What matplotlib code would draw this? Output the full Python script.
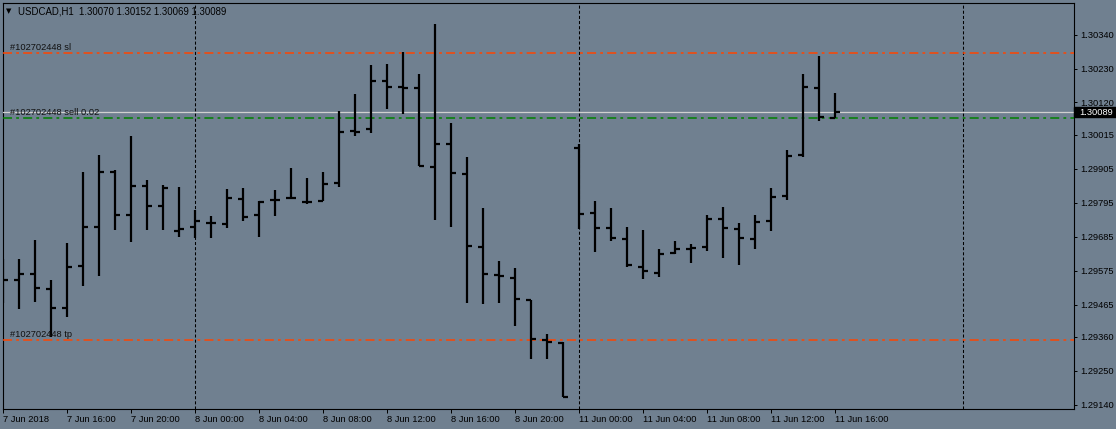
import matplotlib
matplotlib.use('Agg')
import matplotlib.pyplot as plt
import numpy as np
from matplotlib.patches import Rectangle

plt.rcParams['font.family'] = ['Liberation Sans', 'DejaVu Sans']
plt.rcParams['lines.scale_dashes'] = False

# ---------------- data (USDCAD H1, 7 Jun 2018 12:00 .. 11 Jun 2018 16:00) ----------------
opens = [1.29548, 1.29545, 1.29563, 1.29516, 1.29455, 1.29591, 1.29717, 1.29895, 1.29755, 1.29849,
         1.29784, 1.29704, 1.29717, 1.29730, 1.29726, 1.29807, 1.29754, 1.29803, 1.29810, 1.29797,
         1.29801, 1.29860, 1.30029, 1.30035, 1.30191, 1.30171, 1.30168, 1.29912, 1.29985, 1.29887,
         1.29652, 1.29561, 1.29552, 1.29480, 1.29350, 1.29341, 1.29974, 1.29763, 1.29714, 1.29677,
         1.29588, 1.29568, 1.29632, 1.29644, 1.29652, 1.29742, 1.29711, 1.29677, 1.29737, 1.29818,
         1.29950, 1.30168, 1.30070]
highs = [1.29613, 1.29613, 1.29674, 1.29544, 1.29664, 1.29895, 1.29950, 1.29901, 1.30011, 1.29869,
         1.29853, 1.29846, 1.29771, 1.29752, 1.29840, 1.29842, 1.29802, 1.29836, 1.29908, 1.29874,
         1.29896, 1.30093, 1.30148, 1.30242, 1.30245, 1.30284, 1.30213, 1.30375, 1.30053, 1.29942,
         1.29777, 1.29605, 1.29582, 1.29481, 1.29368, 1.29342, 1.29985, 1.29802, 1.29777, 1.29715,
         1.29707, 1.29645, 1.29671, 1.29661, 1.29755, 1.29781, 1.29728, 1.29755, 1.29843, 1.29966,
         1.30213, 1.30271, 1.30152]
lows = [1.29469, 1.29449, 1.29474, 1.29361, 1.29425, 1.29526, 1.29557, 1.29707, 1.29668, 1.29707,
        1.29707, 1.29684, 1.29680, 1.29680, 1.29712, 1.29737, 1.29685, 1.29753, 1.29806, 1.29790,
        1.29801, 1.29845, 1.30012, 1.30022, 1.30100, 1.30081, 1.29915, 1.29739, 1.29715, 1.29471,
        1.29466, 1.29471, 1.29396, 1.29289, 1.29289, 1.29166, 1.29709, 1.29636, 1.29672, 1.29586,
        1.29547, 1.29553, 1.29628, 1.29601, 1.29639, 1.29617, 1.29593, 1.29645, 1.29704, 1.29805,
        1.29944, 1.30061, 1.30069]
closes = [1.29545, 1.29563, 1.29519, 1.29455, 1.29588, 1.29715, 1.29895, 1.29755, 1.29849, 1.29784,
          1.29843, 1.29711, 1.29737, 1.29730, 1.29811, 1.29749, 1.29798, 1.29803, 1.29810, 1.29797,
          1.29856, 1.30025, 1.30025, 1.30191, 1.30171, 1.30168, 1.29915, 1.29985, 1.29892, 1.29655,
          1.29564, 1.29558, 1.29483, 1.29353, 1.29344, 1.29166, 1.29758, 1.29714, 1.29680, 1.29593,
          1.29574, 1.29629, 1.29644, 1.29649, 1.29742, 1.29714, 1.29682, 1.29734, 1.29815, 1.29947,
          1.30171, 1.30074, 1.30089]

xtick_labels = ["7 Jun 2018", "7 Jun 16:00", "7 Jun 20:00", "8 Jun 00:00", "8 Jun 04:00",
                "8 Jun 08:00", "8 Jun 12:00", "8 Jun 16:00", "8 Jun 20:00", "11 Jun 00:00",
                "11 Jun 04:00", "11 Jun 08:00", "11 Jun 12:00", "11 Jun 16:00"]
xtick_pos = [0, 4, 8, 12, 16, 20, 24, 28, 32, 36, 40, 44, 48, 52]
day_separators = [12, 36, 60]
ytick_vals = [1.30340, 1.30230, 1.30120, 1.30015, 1.29905, 1.29795,
              1.29685, 1.29575, 1.29465, 1.29360, 1.29250, 1.29140]

symbol = "USDCAD,H1"
order_id = "#102702448"
sl_price = 1.30280
entry_price = 1.30070
tp_price = 1.29349
bid_price = 1.30089

# ---------------- figure ----------------
W, H = 1116, 429
bg = '#708090'
fig = plt.figure(figsize=(W / 100, H / 100), dpi=100)
fig.patch.set_facecolor(bg)
L, R, T, B = 2.5, 1073.5, 2.5, 408.5
ax = fig.add_axes([L / W, (H - B) / H, (R - L) / W, (B - T) / H])
ax.set_facecolor(bg)

n = len(opens)
x = np.arange(n)
tw = 0.31
ax.vlines(x, lows, highs, color='black', lw=1.6, zorder=4)
ax.hlines(opens, x - tw, x, color='black', lw=1.6, zorder=4)
ax.hlines(closes, x, x + tw, color='black', lw=1.6, zorder=4)

for d in day_separators:
    ax.axvline(d, color='black', lw=0.75, dashes=(2.2, 1.5), zorder=2)

dd = (6.5, 3.0, 2.0, 3.0)
ax.axhline(sl_price, color='#FF4500', lw=1.1, dashes=dd, zorder=3)
ax.axhline(tp_price, color='#FF4500', lw=1.1, dashes=dd, zorder=3)
ax.axhline(entry_price, color='#008000', lw=1.1, dashes=dd, zorder=3)
ax.axhline(bid_price, color='#d0d0d0', lw=0.9, zorder=3)

for price, txt in [(sl_price, f"{order_id} sl"), (entry_price, f"{order_id} sell 0.02"),
                   (tp_price, f"{order_id} tp")]:
    ax.annotate(txt, xy=(0, price), xycoords=('axes fraction', 'data'),
                xytext=(7, 5.6), textcoords='offset pixels', ha='left', va='center',
                fontsize=6.7, color='#111111', zorder=5)

ax.set_xlim(-0.03, 66.9)
ax.set_ylim(1.29128, 1.30444)

ax.set_xticks(xtick_pos)
ax.set_xticklabels(xtick_labels, ha='left')
ax.tick_params(axis='x', direction='out', length=3, width=0.72, pad=1.5,
               labelsize=6.7, colors='black')
ax.yaxis.tick_right()
ax.set_yticks(ytick_vals)
ax.set_yticklabels([f"{v:.5f}" for v in ytick_vals])
ax.tick_params(axis='y', direction='out', length=2.5, width=0.72, pad=2.2,
               labelsize=6.7, colors='black')
for s in ax.spines.values():
    s.set_color('black')
    s.set_linewidth(0.8)

# current price box on the price scale
trans = ax.get_yaxis_transform()
ax.add_patch(Rectangle((1.0007, bid_price - 0.000170), 0.0395, 0.00034, transform=trans,
                       facecolor='black', edgecolor='black', clip_on=False, zorder=6))
ax.text(1.0 + 5.5 / (R - L), bid_price, f"{bid_price:.5f}", transform=trans, color='white',
        va='center', ha='left', fontsize=6.7, zorder=7, clip_on=False)

# header
fig.text(6 / W, 1 - 11 / H, '\u25bc', fontsize=5, family=['DejaVu Sans'], va='center',
         ha='left', color='black')
fig.text(18 / W, 1 - 11 / H,
         f"{symbol}  {opens[-1]:.5f} {highs[-1]:.5f} {lows[-1]:.5f} {closes[-1]:.5f}",
         fontsize=6.9, va='center', ha='left', color='black')

fig.savefig('out.png', dpi=100, facecolor=bg)
